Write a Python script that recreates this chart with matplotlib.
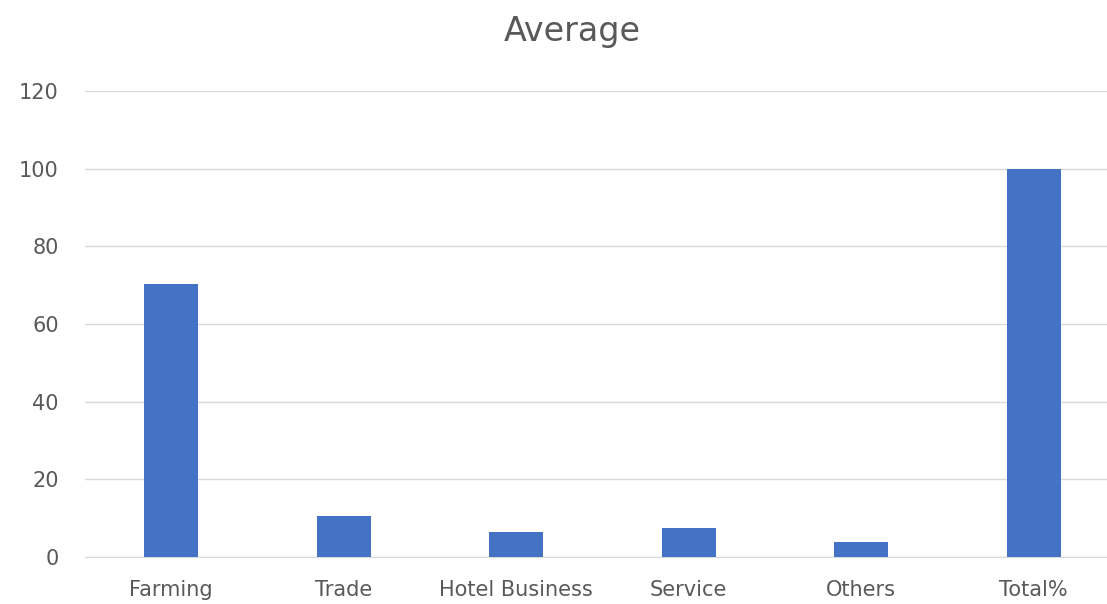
import matplotlib
matplotlib.use("Agg")
from matplotlib import pyplot as plt

categories = ["Farming", "Trade", "Hotel Business", "Service", "Others", "Total%"]
averages = [70.2, 10.5, 6.4, 7.3, 3.7, 100]
y_ticks = [0, 20, 40, 60, 80, 100, 120]

plt.rcParams['font.family'] = ['DejaVu Sans']

fig = plt.figure(figsize=(11.07, 6.04), dpi=100)
# plot area runs a little past the right edge of the canvas
ax = fig.add_axes([0.0768, 0.0783, 0.935, 0.7705])

x = range(len(categories))
ax.bar(x, averages, width=0.313, color='#4472C4', zorder=3)

ax.set_xlim(-0.5, len(categories) - 0.5)
ax.set_ylim(0, 120)
ax.set_yticks(y_ticks)
ax.set_xticks(list(x))
ax.set_xticklabels(categories)
ax.grid(axis='y', color='#d9d9d9', linewidth=1.0, zorder=0)
for side in ['top', 'right', 'left']:
    ax.spines[side].set_visible(False)
ax.spines['bottom'].set_color('#d9d9d9')
ax.tick_params(axis='both', length=0, colors='#595959', labelsize=15)
ax.tick_params(axis='y', pad=19)
ax.tick_params(axis='x', pad=17)

fig.text(0.517, 0.932, "Average", ha='center', va='baseline', fontsize=24, color='#595959')

fig.savefig("out.png", dpi=100)
